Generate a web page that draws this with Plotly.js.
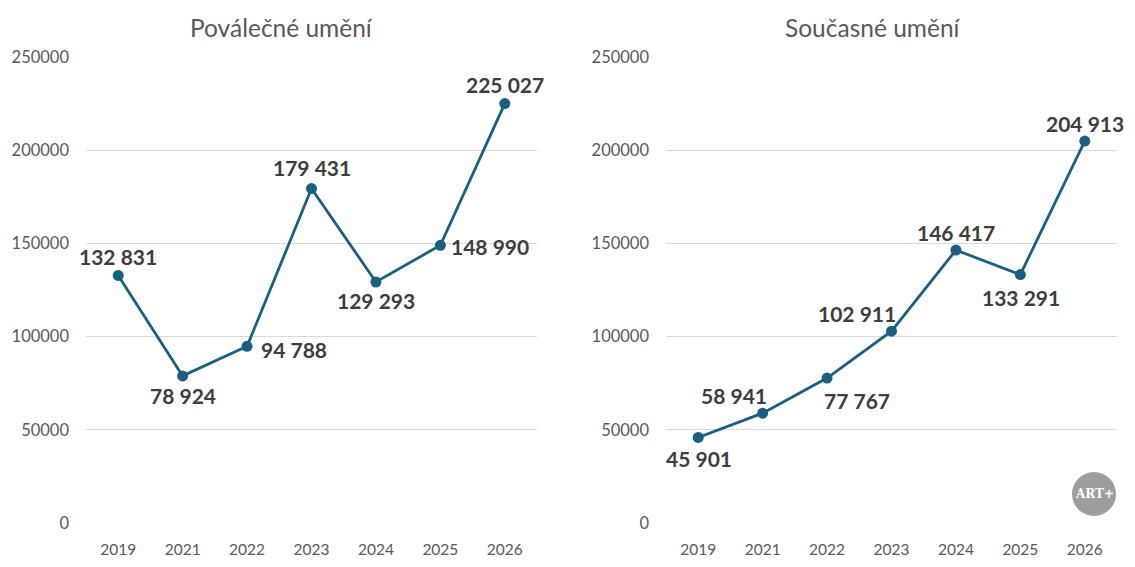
<!DOCTYPE html>
<html>
<head>
<meta charset="utf-8">
<script src="https://cdn.plot.ly/plotly-3.0.1.min.js"></script>
<style>
  html, body { margin: 0; padding: 0; background: #ffffff; }
  #chart { width: 1135px; height: 567px; }
</style>
</head>
<body>
<div id="chart"></div>
<script>
// Years shown on the horizontal axis (2020 is not part of the series)
const years = ['2019', '2021', '2022', '2023', '2024', '2025', '2026'];

// Post-war art
const titlePostwar = 'Poválečné umění';
const postwar = [132831, 78924, 94788, 179431, 129293, 148990, 225027];

// Contemporary art
const titleContemporary = 'Současné umění';
const contemporary = [45901, 58941, 77767, 102911, 146417, 133291, 204913];

const yTicks = [0, 50000, 100000, 150000, 200000, 250000];

// Evenly spaced slots, one per year
const slots = years.map((_, i) => i);

// Label placement around each marker: [xshift, yshift, xanchor]
const postwarLabelPos = [
  [0, 19, 'center'], [0, -20, 'center'], [12, -3, 'left'], [0, 21, 'center'],
  [0, -19, 'center'], [9, -1, 'left'], [0, 19, 'center']
];
const contemporaryLabelPos = [
  [1, -21, 'center'], [-29, 18, 'center'], [30, -22, 'center'], [-35, 18, 'center'],
  [0, 18, 'center'], [1, -23, 'center'], [0, 18, 'center']
];

const lineColor = '#1b5f80';
const textColor = '#595959';
const labelColor = '#3d3d3d';
const fontFamily = 'Lato, "Open Sans", sans-serif';

function fmt(v) {
  return String(v).replace(/\B(?=(\d{3})+(?!\d))/g, ' ');
}

function series(values, xa, ya) {
  return {
    x: slots, y: values, xaxis: xa, yaxis: ya,
    type: 'scatter', mode: 'lines+markers',
    line: { color: lineColor, width: 2.8 },
    marker: { color: lineColor, size: 11 },
    cliponaxis: false, hoverinfo: 'skip', showlegend: false
  };
}

function labels(values, pos, xa, ya) {
  return values.map((v, i) => ({
    x: slots[i], y: v, xref: xa, yref: ya,
    text: fmt(v), showarrow: false,
    xanchor: pos[i][2], yanchor: 'middle',
    xshift: pos[i][0], yshift: pos[i][1],
    font: { family: fontFamily, size: 21, color: labelColor, weight: 700 }
  }));
}

const W = 1135, H = 567;
const px = v => v / W;
const py = v => 1 - v / H;

function yAxis(domain, anchor) {
  return {
    domain: domain, anchor: anchor, range: [0, 250000],
    tickmode: 'array', tickvals: yTicks, ticktext: yTicks.map(String),
    showgrid: true, gridcolor: '#d9d9d9', gridwidth: 1,
    zeroline: false, showline: false, ticks: '',
    ticklabelstandoff: 16, fixedrange: true,
    tickfont: { family: fontFamily, size: 16.5, color: textColor }
  };
}
function xAxis(domain, anchor) {
  return {
    domain: domain, anchor: anchor, type: 'linear', range: [-0.5, years.length - 0.5],
    tickmode: 'array', tickvals: slots, ticktext: years,
    showgrid: false, zeroline: false, showline: false, ticks: '',
    ticklabelstandoff: 15, fixedrange: true,
    tickfont: { family: fontFamily, size: 15.5, color: textColor }
  };
}

const yDom = [py(523), py(57)];

const layout = {
  width: W, height: H,
  margin: { l: 0, r: 0, t: 0, b: 0 },
  paper_bgcolor: '#ffffff', plot_bgcolor: '#ffffff',
  xaxis: xAxis([px(86), px(537)], 'y'),
  yaxis: yAxis(yDom, 'x'),
  xaxis2: xAxis([px(666), px(1117)], 'y2'),
  yaxis2: yAxis(yDom, 'x2'),
  annotations: [
    { x: px(281), y: py(27), xref: 'paper', yref: 'paper', text: titlePostwar,
      showarrow: false, xanchor: 'center', yanchor: 'middle',
      font: { family: fontFamily, size: 24.5, color: textColor } },
    { x: px(873), y: py(27), xref: 'paper', yref: 'paper', text: titleContemporary,
      showarrow: false, xanchor: 'center', yanchor: 'middle',
      font: { family: fontFamily, size: 24.5, color: textColor } },
    { x: px(1094), y: py(494), xref: 'paper', yref: 'paper', text: 'ART+',
      showarrow: false, xanchor: 'center', yanchor: 'middle',
      font: { family: '"DejaVu Serif", serif', size: 12, color: '#ffffff', weight: 700 } }
  ].concat(labels(postwar, postwarLabelPos, 'x', 'y'))
   .concat(labels(contemporary, contemporaryLabelPos, 'x2', 'y2')),
  shapes: [
    { type: 'circle', xref: 'paper', yref: 'paper',
      xsizemode: 'pixel', ysizemode: 'pixel',
      xanchor: px(1094), yanchor: py(494),
      x0: -22, x1: 22, y0: -22, y1: 22,
      fillcolor: '#9e9e9e', line: { width: 0 } }
  ]
};

Plotly.newPlot('chart', [
  series(postwar, 'x', 'y'),
  series(contemporary, 'x2', 'y2')
], layout, { staticPlot: true, displayModeBar: false });
</script>
</body>
</html>
